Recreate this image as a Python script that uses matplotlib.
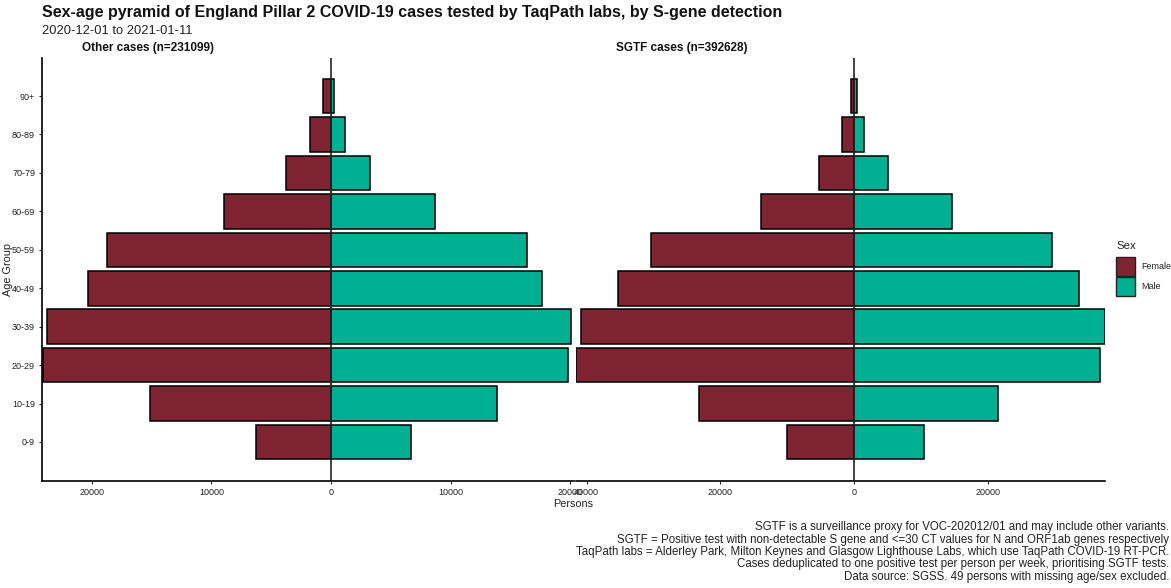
import matplotlib
matplotlib.use("Agg")
import matplotlib.pyplot as plt
from matplotlib.patches import Rectangle

plt.rcParams['font.family'] = ['Liberation Sans', 'DejaVu Sans']

age_groups = ['0-9', '10-19', '20-29', '30-39', '40-49', '50-59', '60-69', '70-79', '80-89', '90+']

# Persons per age group, youngest first
other_female = [6280, 15150, 24100, 23770, 20330, 18750, 8950, 3770, 1760, 670]
other_male = [6690, 13890, 19830, 20080, 17650, 16400, 8700, 3260, 1170, 250]
sgtf_female = [10070, 23200, 41570, 40820, 35300, 30370, 13950, 5300, 1870, 520]
sgtf_male = [10370, 21420, 36640, 37400, 33500, 29480, 14550, 5000, 1420, 370]

other_ticks = [-20000, -10000, 0, 10000, 20000]
other_tick_labels = ['20000', '10000', '0', '10000', '20000']
sgtf_ticks = [-40000, -20000, 0, 20000]
sgtf_tick_labels = ['40000', '20000', '0', '20000']

FEMALE = '#7f2433'
MALE = '#00b092'
W, H = 1171, 588

fig = plt.figure(figsize=(W / 100, H / 100), dpi=100)


def add_panel(left, right, top, bottom):
    return fig.add_axes([left / W, 1 - bottom / H, (right - left) / W, (bottom - top) / H])


def fig_text(x, y, s, **kwargs):
    kwargs.setdefault('va', 'center')
    fig.text(x / W, 1 - y / H, s, **kwargs)


def draw_pyramid(ax, female, male, ticks, tick_labels, xlim):
    ypos = range(len(age_groups))
    ax.barh(ypos, [-v for v in female], height=0.9, color=FEMALE, edgecolor='black', linewidth=1.1)
    ax.barh(ypos, male, height=0.9, color=MALE, edgecolor='black', linewidth=1.1)
    ax.axvline(0, color='#222222', linewidth=1.2)
    ax.set_xlim(*xlim)
    ax.set_ylim(-1.015, 9.99)
    ax.set_xticks(ticks)
    ax.set_xticklabels(tick_labels)
    ax.tick_params(axis='x', labelsize=6.5, length=2.5, width=0.8, pad=2.5, colors='#222222')
    for side in ['top', 'right']:
        ax.spines[side].set_visible(False)
    ax.spines['bottom'].set_linewidth(1.2)
    ax.spines['left'].set_linewidth(1.2)
    ax.patch.set_alpha(0)


ax1 = add_panel(42, 574, 58, 481)
draw_pyramid(ax1, other_female, other_male, other_ticks, other_tick_labels, (-24180, 20330))
ax1.set_yticks(range(len(age_groups)))
ax1.set_yticklabels(age_groups)
ax1.tick_params(axis='y', labelsize=6.5, length=2.5, width=0.8, pad=2.5, colors='#222222')

ax2 = add_panel(576, 1105, 58, 481)
draw_pyramid(ax2, sgtf_female, sgtf_male, sgtf_ticks, sgtf_tick_labels, (-41570, 37400))
ax2.spines['left'].set_visible(False)
ax2.set_yticks([])

fig_text(42, 12, 'Sex-age pyramid of England Pillar 2 COVID-19 cases tested by TaqPath labs, by S-gene detection',
         fontsize=11.55, fontweight='bold', color='#111111')
fig_text(42, 31, '2020-12-01 to 2021-01-11', fontsize=9.3, color='#222222')
fig_text(82, 48, 'Other cases (n=231099)', fontsize=8.5, fontweight='bold', color='#111111')
fig_text(616, 48, 'SGTF cases (n=392628)', fontsize=8.5, fontweight='bold', color='#111111')
fig_text(8, 270, 'Age Group', fontsize=7.8, rotation=90, ha='center', color='#222222')
fig_text(573, 504, 'Persons', fontsize=7.8, ha='center', color='#222222')

# Legend drawn by hand so the swatches touch like the ggplot key
fig_text(1116, 246, 'Sex', fontsize=8.2, color='#222222')
for y, color, label in [(257, FEMALE, 'Female'), (277, MALE, 'Male')]:
    fig.add_artist(Rectangle((1116 / W, 1 - (y + 19) / H), 19 / W, 19 / H, transform=fig.transFigure,
                             facecolor=color, edgecolor='#222222', linewidth=1.0))
    fig_text(1141, y + 9.5, label, fontsize=6.5, color='#222222')

caption = [
    'SGTF is a surveillance proxy for VOC-202012/01 and may include other variants.',
    'SGTF = Positive test with non-detectable S gene and <=30 CT values for N and ORF1ab genes respectively',
    'TaqPath labs = Alderley Park, Milton Keynes and Glasgow Lighthouse Labs, which use TaqPath COVID-19 RT-PCR.',
    'Cases deduplicated to one positive test per person per week, prioritising SGTF tests.',
    'Data source: SGSS. 49 persons with missing age/sex excluded.',
]
for i, line in enumerate(caption):
    fig_text(1169, 527 + i * 12.5, line, fontsize=8.3, ha='right', color='#222222')

fig.savefig('out.png', dpi=100)
